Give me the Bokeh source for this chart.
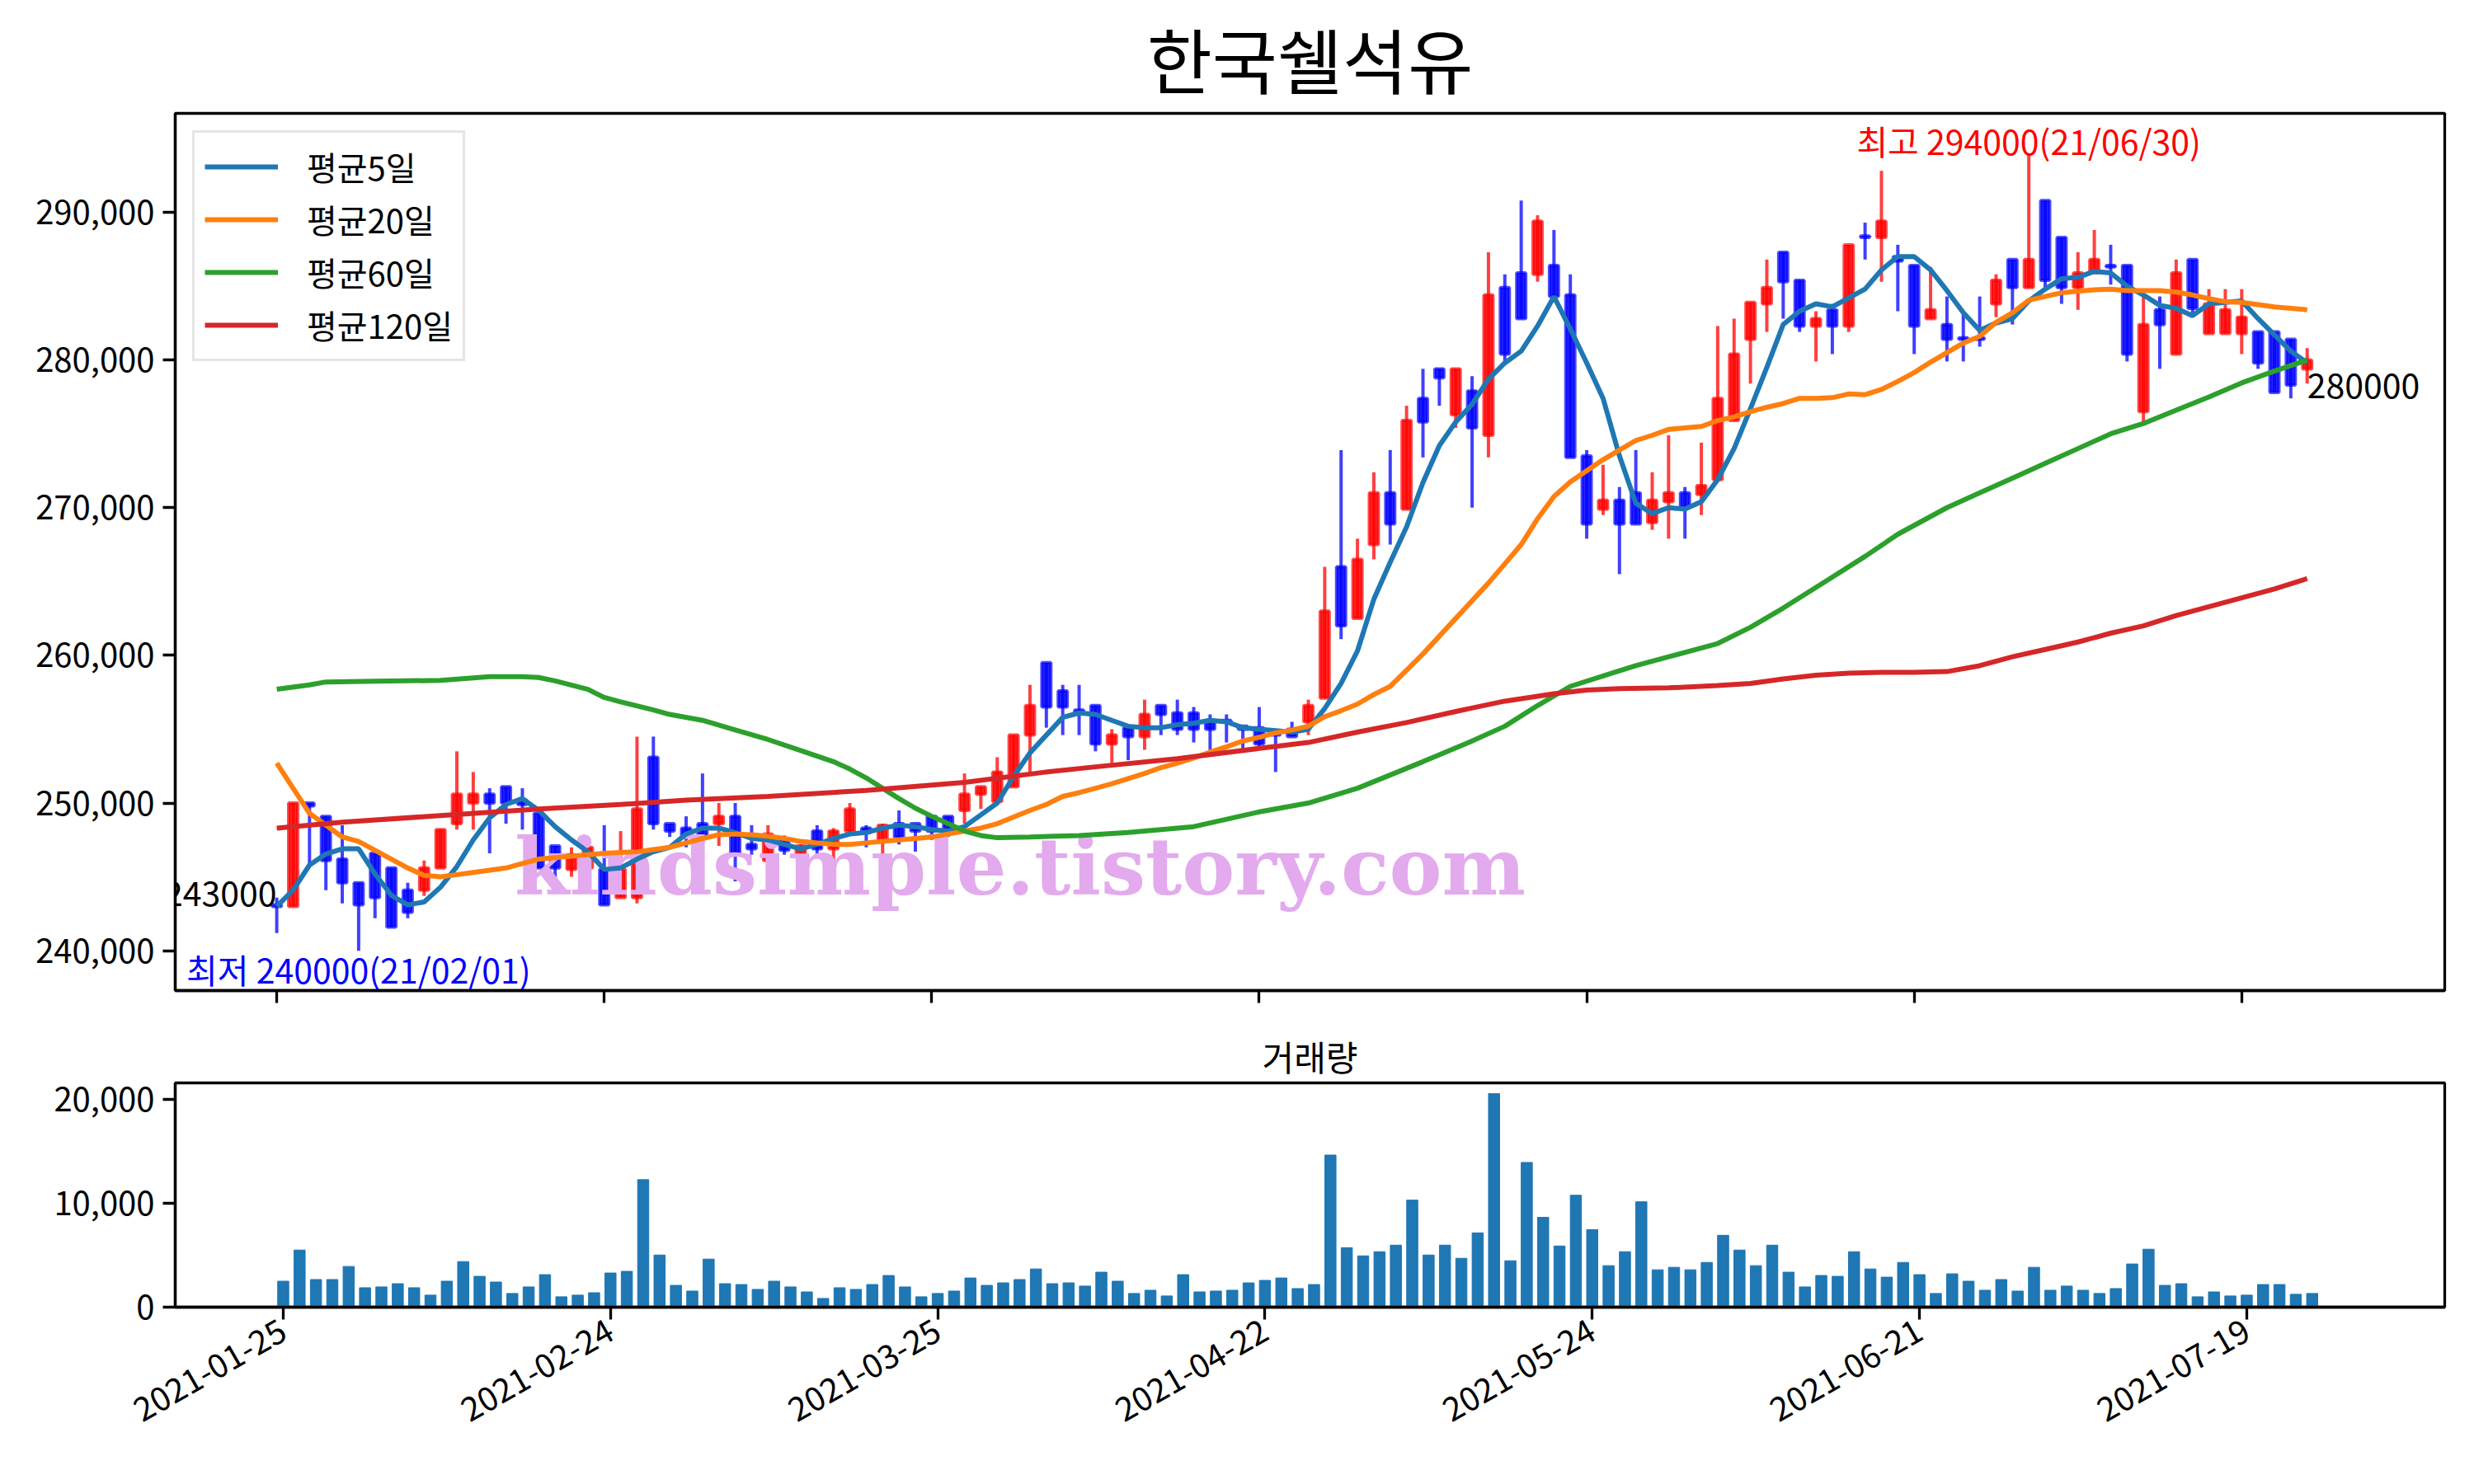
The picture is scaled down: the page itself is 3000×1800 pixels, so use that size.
import numpy as np
from bokeh.plotting import figure
from bokeh.layouts import column
from bokeh.models import ColumnDataSource, FixedTicker, NumeralTickFormatter
from bokeh.core.properties import value
from bokeh.embed import file_html
from bokeh.resources import INLINE

FONT = "Noto Sans CJK KR"

# x ticks (trading-day index) and their date labels
tick_pos = [0, 20, 40, 60, 80, 100, 120]
tick_labels = ["2021-01-25", "2021-02-24", "2021-03-25", "2021-04-22",
               "2021-05-24", "2021-06-21", "2021-07-19"]

opens = [243100, 243000, 250000, 249100, 246200, 244600, 246600, 245600, 244100, 244100,
         245600, 248600, 250000, 250600, 251100, 250200, 249300, 247100, 245500, 245600,
         245500, 243600, 243600, 253100, 248600, 248300, 248600, 248600, 249100, 247200,
         246100, 247500, 246300, 248100, 246900, 248100, 248300, 247500, 248600, 248600,
         249100, 249100, 249500, 250600, 250100, 251100, 254600, 259500, 257600, 256300,
         256600, 254000, 255100, 254500, 256600, 256100, 256100, 255600, 255600, 255200,
         255100, 254900, 255000, 255500, 257100, 266000, 262500, 267500, 271000, 269900,
         277400, 279400, 276300, 277900, 274900, 284900, 285900, 285800, 286400, 284400,
         273500, 269900, 270500, 271000, 269000, 270400, 271000, 270900, 271900, 275900,
         281400, 283800, 287300, 285400, 282300, 283400, 282300, 288400, 288300, 287000,
         286400, 282800, 282400, 281500, 281500, 283800, 286800, 284900, 290800, 288300,
         284900, 285900, 286400, 286400, 276500, 283400, 280400, 286800, 281800, 281800,
         281800, 281900, 281900, 281400, 279400]
highs = [243600, 250000, 250000, 249100, 248500, 244600, 246600, 245600, 244600, 246100,
         248200, 253500, 252100, 251000, 251100, 251000, 249300, 247100, 247000, 247500,
         248500, 248100, 254500, 254500, 248600, 249100, 252000, 250000, 250000, 248500,
         248500, 247800, 247200, 248500, 248300, 250000, 248500, 248600, 249500, 248600,
         249100, 249100, 252000, 251100, 253100, 254600, 258000, 259500, 258000, 258000,
         256600, 255000, 255100, 257000, 256600, 257000, 256500, 256000, 256000, 255200,
         256500, 255000, 255500, 257000, 266000, 273900, 267900, 272400, 273900, 276900,
         279400, 279400, 279400, 278900, 287300, 285800, 290800, 289800, 288800, 285800,
         273900, 272900, 271400, 273900, 272400, 274900, 271400, 274400, 282300, 282800,
         283900, 286800, 287300, 285400, 283300, 283800, 287800, 289300, 292800, 287800,
         286400, 286300, 284300, 283300, 284300, 285800, 286800, 294000, 290800, 288300,
         287300, 288800, 287800, 286400, 284300, 284300, 286800, 286800, 284800, 284800,
         284800, 281900, 281900, 281400, 280800]
lows = [241200, 243000, 245800, 244100, 243200, 240000, 242200, 241600, 242200, 243700,
        245600, 248200, 248200, 246600, 248600, 248200, 245600, 244700, 245000, 244100,
        243100, 243600, 243200, 248200, 247700, 247000, 245600, 247100, 244700, 246500,
        245200, 246500, 245200, 246500, 245600, 248000, 247000, 245200, 247200, 246700,
        247500, 247700, 248600, 249600, 250000, 251100, 252000, 255100, 254600, 254600,
        253500, 252700, 252900, 253600, 254600, 254600, 254100, 253600, 254100, 253700,
        253800, 252100, 254500, 254600, 257100, 261100, 262500, 266500, 267500, 269900,
        273400, 276900, 275400, 270000, 273400, 279900, 282800, 285300, 284300, 273400,
        267900, 269500, 265500, 268900, 268500, 267900, 267900, 269500, 271900, 275900,
        278400, 281900, 282800, 281900, 279900, 280400, 281900, 286800, 285300, 283300,
        280400, 282800, 279900, 279900, 280900, 282900, 282400, 284900, 284900, 283800,
        283400, 285900, 285100, 279900, 275800, 279400, 280400, 282900, 281800, 281800,
        280400, 279400, 277800, 277400, 278400]
closes = [243000, 250000, 249800, 246100, 244600, 243100, 243600, 241600, 242600, 245600,
          248200, 250600, 250600, 250000, 250000, 249900, 245600, 245600, 246500, 247000,
          243100, 245500, 249600, 248600, 248100, 247800, 247600, 249100, 246600, 246900,
          247900, 246800, 247100, 246900, 248100, 249600, 248000, 248500, 247700, 248100,
          248100, 248100, 250600, 251100, 252100, 254600, 256600, 256500, 256500, 256100,
          254000, 254600, 254500, 256000, 256000, 255000, 255000, 255000, 255500, 255000,
          254000, 254600, 254500, 256600, 263000, 262000, 266500, 271000, 268900, 275900,
          275800, 278800, 279400, 275400, 284400, 280400, 282800, 289400, 284300, 273400,
          268900, 270500, 268900, 268900, 270500, 271000, 270000, 271500, 277400, 280400,
          283900, 284900, 285300, 282300, 282800, 282300, 287800, 288300, 289400, 286700,
          282300, 283400, 281400, 281400, 281400, 285400, 284900, 286800, 285400, 284900,
          285900, 286800, 286300, 280400, 282400, 282400, 285900, 283500, 283800, 283400,
          282900, 279800, 277800, 278300, 280000]
volumes = [2500, 5500, 2660, 2660, 3920, 1870, 1950, 2260, 1870, 1160,
           2500, 4390, 2970, 2420, 1320, 1950, 3130, 1000, 1160, 1390,
           3290, 3450, 12280, 5020, 2100, 1550, 4630, 2260, 2180, 1710,
           2500, 1950, 1470, 840, 1870, 1710, 2180, 3050, 1950, 1000,
           1320, 1550, 2810, 2100, 2340, 2660, 3680, 2260, 2340, 2030,
           3370, 2500, 1320, 1630, 1080, 3130, 1470, 1550, 1630, 2340,
           2580, 2810, 1790, 2180, 14650, 5730, 4940, 5340, 5970, 10310,
           5020, 5970, 4710, 7150, 20570, 4470, 13940, 8650, 5890, 10780,
           7470, 4000, 5340, 10150, 3600, 3840, 3600, 4310, 6920, 5500,
           4000, 5970, 3370, 1950, 3050, 2970, 5340, 3680, 2890, 4310,
           3130, 1320, 3210, 2500, 1630, 2660, 1550, 3840, 1630, 2030,
           1630, 1320, 1790, 4160, 5580, 2100, 2260, 1000, 1470, 1080,
           1160, 2180, 2180, 1240, 1320]

ma5 = [243000, 244100, 245800, 246550, 246900, 246900, 245200, 243750, 243100, 243300,
       244300, 245700, 247500, 249000, 249900, 250300, 249500, 248400, 247500, 246700,
       245500, 245600, 246200, 246700, 247000, 247900, 248300, 248300, 248000, 247600,
       247500, 247200, 246900, 247200, 247600, 247900, 248000, 248300, 248500, 248400,
       248200, 248100, 248400, 249200, 250000, 251800, 253400, 254600, 255800, 256100,
       256000, 255600, 255200, 255100, 255100, 255300, 255400, 255600, 255500, 255100,
       255000, 254900, 254800, 255000, 256400, 258100, 260300, 263800, 266300, 268700,
       271700, 274200, 275800, 277000, 278700, 279800, 280600, 282300, 284300, 282100,
       279800, 277400, 273500, 270300, 269600, 270000, 269900, 270400, 271900, 274000,
       276700, 279500, 282400, 283300, 283800, 283600, 284200, 284800, 286100, 287000,
       287000, 286100, 284700, 283200, 282000, 282500, 282800, 284000, 284800, 285500,
       285600, 286000, 285900, 285000, 284400, 283700, 283500, 283000, 283800, 283900,
       284000, 282800, 281700, 280600, 279800]
ma20 = [252700, 251000, 249300, 248500, 247700, 247400, 246800, 246200, 245600, 245100,
        245000, 245150, 245300, 245450, 245600, 245900, 246200, 246300, 246400, 246500,
        246600, 246650, 246700, 246850, 247000, 247300, 247600, 247850, 247900, 247850,
        247750, 247600, 247400, 247300, 247200, 247200, 247300, 247400, 247500, 247600,
        247700, 247900, 248100, 248300, 248600, 249050, 249500, 249900, 250450, 250700,
        251000, 251300, 251650, 252000, 252400, 252700, 253050, 253450, 253800, 254200,
        254450, 254750, 254950, 255200, 255850, 256250, 256700, 257350, 257900, 259000,
        260100, 261300, 262500, 263700, 264900, 266200, 267500, 269250, 270750, 271750,
        272500, 273250, 273900, 274550, 274900, 275300, 275400, 275500, 275900, 276150,
        276500, 276800, 277050, 277400, 277400, 277450, 277700, 277650, 278000, 278550,
        279150, 279850, 280500, 281150, 281600, 282550, 283200, 284050, 284300, 284550,
        284650, 284750, 284800, 284700, 284700, 284700, 284600, 284400, 284150, 283950,
        283900, 283750, 283600, 283500, 283400]
ma60_x = [0, 2, 3, 6, 10, 13, 15, 16, 17, 19, 20, 21, 23, 24, 26, 28, 30, 32, 34, 35,
          36, 37, 38, 39, 40, 41, 42, 43, 44, 46, 49, 52, 56, 60, 63, 66, 70, 73, 75, 77,
          79, 81, 83, 85, 88, 90, 92, 93, 95, 97, 99, 100, 102, 104, 106, 108, 110, 112,
          114, 116, 118, 120, 122, 124]
ma60 = [257700, 258000, 258200, 258250, 258300, 258550, 258550, 258500, 258270, 257700,
        257150, 256850, 256300, 256000, 255600, 254950, 254300, 253550, 252800, 252300,
        251700, 251000, 250300, 249650, 249100, 248600, 248100, 247800, 247650, 247700,
        247800, 248000, 248400, 249400, 250000, 251000, 252800, 254200, 255200, 256600,
        257900, 258600, 259300, 259900, 260800, 261900, 263200, 263900, 265300, 266700,
        268200, 268800, 270000, 271000, 272000, 273000, 274000, 275000, 275700, 276600,
        277500, 278450, 279250, 280000]
ma120_x = [0, 4, 10, 16, 21, 25, 30, 36, 42, 47, 50, 55, 60, 63, 66, 69, 72, 75, 78, 80,
           82, 85, 88, 90, 92, 94, 96, 98, 100, 102, 104, 106, 108, 110, 112, 114, 116,
           118, 120, 122, 124]
ma120 = [248300, 248700, 249150, 249600, 249900, 250200, 250450, 250850, 251400, 252100,
         252450, 253000, 253700, 254100, 254800, 255450, 256200, 256900, 257400, 257650,
         257750, 257800, 257950, 258100, 258400, 258650, 258800, 258850, 258850, 258900,
         259300, 259900, 260400, 260900, 261500, 262000, 262700, 263300, 263900, 264500,
         265200]

o = np.array(opens)
c = np.array(closes)
idx = np.arange(len(closes))
up = c >= o
candle = ColumnDataSource(dict(
    x=idx, high=highs, low=lows,
    top=np.maximum(o, c), bottom=np.minimum(o, c),
    color=np.where(up, "#ff0000", "#0000ff"),
))


def style_axes(fig):
    for ax in list(fig.xaxis) + list(fig.yaxis):
        ax.axis_line_color = "black"
        ax.axis_line_width = 3.3
        ax.major_tick_line_color = "black"
        ax.major_tick_line_width = 3.3
        ax.major_tick_out = 15
        ax.major_tick_in = 0
        ax.minor_tick_out = 0
        ax.minor_tick_in = 0
        ax.major_label_text_font = FONT
        ax.major_label_text_font_size = "40px"
        ax.major_label_text_color = "black"
        ax.major_label_standoff = 10
    fig.xgrid.visible = False
    fig.ygrid.visible = False
    fig.outline_line_color = "black"
    fig.outline_line_width = 3.3
    fig.outline_line_alpha = 1.0


p = figure(frame_width=2752, frame_height=1064, x_range=(-6.2, 132.4),
           y_range=(237300, 296700), output_backend="svg", toolbar_location=None,
           min_border_left=212, min_border_right=20, min_border_top=128,
           min_border_bottom=40)
p.title.text = "한국쉘석유"
p.title.text_font = FONT
p.title.text_font_size = "86px"
p.title.text_font_style = "normal"
p.title.text_color = "black"
p.title.align = "center"
style_axes(p)
p.xaxis.ticker = FixedTicker(ticks=tick_pos)
p.xaxis.major_label_overrides = {t: "" for t in tick_pos}
p.yaxis.ticker = FixedTicker(ticks=[240000, 250000, 260000, 270000, 280000, 290000])
p.yaxis.formatter = NumeralTickFormatter(format="0,0")

# candles
p.segment(x0="x", y0="low", x1="x", y1="high", source=candle,
          line_color="color", line_alpha=0.75, line_width=4)
p.vbar(x="x", width=0.55, top="top", bottom="bottom", source=candle,
       fill_color="color", fill_alpha=0.85, line_color="color", line_alpha=0.7,
       line_width=4)

# watermark
p.text(x=[45.4], y=[245700], text=["kindsimple.tistory.com"],
       text_font=value("DejaVu Serif"), text_font_style="bold",
       text_font_size="96px", text_color="#e3aaee", text_align="center",
       text_baseline="alphabetic")

# moving averages
p.line(idx, ma5, line_color="#1f77b4", line_width=6, legend_label="평균5일")
p.line(idx, ma20, line_color="#ff7f0e", line_width=6, legend_label="평균20일")
p.line(ma60_x, ma60, line_color="#2ca02c", line_width=6, legend_label="평균60일")
p.line(ma120_x, ma120, line_color="#d62728", line_width=6, legend_label="평균120일")

# annotations
hi_i = int(np.argmax(highs))
lo_i = int(np.argmin(lows))
p.text(x=[hi_i], y=[max(highs) - 800], text=["최고 294000(21/06/30)"],
       text_font=value(FONT), text_font_size="41px", text_color="red",
       text_align="center", text_baseline="bottom")
p.text(x=[lo_i], y=[min(lows)], text=["최저 240000(21/02/01)"],
       text_font=value(FONT), text_font_size="41px", text_color="blue",
       text_align="center", text_baseline="top", y_offset=-8)
p.text(x=[0], y=[closes[0]], text=[str(closes[0])],
       text_font=value(FONT), text_font_size="41px", text_color="black",
       text_align="right", text_baseline="bottom")
p.text(x=[idx[-1]], y=[closes[-1] - 900], text=[str(closes[-1])],
       text_font=value(FONT), text_font_size="41px", text_color="black",
       text_align="left", text_baseline="top")

p.legend.location = "top_left"
p.legend.margin = 21
p.legend.padding = 12
p.legend.spacing = 6
p.legend.glyph_width = 89
p.legend.glyph_height = 40
p.legend.label_height = 40
p.legend.label_standoff = 35
p.legend.label_text_font = FONT
p.legend.label_text_font_size = "40px"
p.legend.label_text_color = "black"
p.legend.border_line_color = "#cccccc"
p.legend.border_line_width = 3
p.legend.background_fill_alpha = 0.8

# volume
pv = figure(frame_width=2752, frame_height=272, x_range=(-6.6, 132.1),
            y_range=(0, 21600), output_backend="svg", toolbar_location=None,
            min_border_left=212, min_border_right=20, min_border_top=72,
            min_border_bottom=190)
pv.title.text = "거래량"
pv.title.text_font = FONT
pv.title.text_font_size = "42px"
pv.title.text_font_style = "normal"
pv.title.text_color = "black"
pv.title.align = "center"
pv.title.standoff = 6
style_axes(pv)
pv.vbar(x=idx, top=volumes, width=0.68, color="#1f77b4")
pv.xaxis.ticker = FixedTicker(ticks=tick_pos)
pv.xaxis.major_label_overrides = dict(zip(tick_pos, tick_labels))
pv.xaxis.major_label_orientation = np.pi / 6
pv.yaxis.ticker = FixedTicker(ticks=[0, 10000, 20000])
pv.yaxis.formatter = NumeralTickFormatter(format="0,0")

layout = column(p, pv, spacing=0)
open("out.html", "w").write(file_html(layout, INLINE))
